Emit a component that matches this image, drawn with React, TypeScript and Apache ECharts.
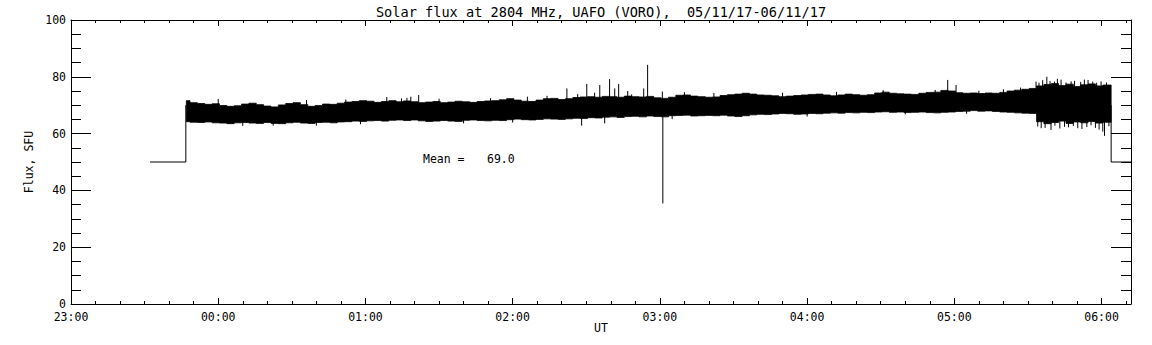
import React, { useEffect, useRef } from "react";
import * as echarts from "echarts";

// Time axis: minutes after 23:00 UT
const axisMin = 0;
const axisMax = 432;
const yTicks = [0, 20, 40, 60, 80, 100];

// Band of the flux record (sampled every 3 minutes, starting 23:47)
const bandStart = 47;
const bandStep = 3;
const bandUpper = [
  71.6, 70.9, 70.6, 70.3, 70.5, 69.9, 69.6, 69.8, 70.4, 70.7,
  70.2, 69.7, 69.4, 70.1, 70.6, 70.9, 70.2, 69.6, 69.9, 70.4,
  70.3, 70.7, 71.1, 71.3, 71.6, 71.4, 71.0, 71.3, 71.6, 71.2,
  71.5, 71.2, 70.9, 71.1, 71.3, 70.9, 71.1, 71.4, 71.2, 71.0,
  71.3, 71.5, 71.6, 71.9, 72.3, 71.8, 71.4, 71.3, 71.8, 72.3,
  72.4, 72.0, 72.3, 72.7, 72.9, 73.0, 72.8, 73.1, 73.0, 72.8,
  73.2, 73.0, 72.9, 73.1, 72.6, 72.4, 72.8, 73.5, 73.6, 73.2,
  73.0, 72.8, 72.9, 73.4, 73.7, 73.9, 74.2, 73.9, 73.6, 73.5,
  73.3, 73.0, 73.2, 73.4, 73.6, 73.8, 73.9, 73.6, 73.3, 73.6,
  73.9, 73.7, 73.5, 73.7, 74.3, 74.6, 74.2, 74.0, 73.9, 73.8,
  74.2, 74.5, 74.6, 75.2, 75.0, 74.4, 74.2, 74.3, 74.1, 74.3,
  74.2, 74.5, 75.0, 75.3, 75.6, 75.9, 76.8, 77.3, 77.6, 76.9,
  77.4, 76.6, 77.2, 77.5, 76.8, 77.1,
];
const bandLower = [
  64.2, 64.0, 63.9, 64.1, 63.8, 63.7, 63.5, 63.8, 63.9, 63.7,
  63.6, 63.9, 63.6, 63.5, 63.8, 64.0, 63.7, 63.6, 63.9, 64.0,
  63.8, 64.1, 64.2, 64.4, 64.3, 64.5, 64.6, 64.4, 64.7, 64.8,
  64.6, 64.8, 64.5, 64.3, 64.4, 64.6, 64.4, 64.3, 64.7, 64.8,
  64.6, 64.5, 64.7, 64.6, 64.9, 65.1, 64.9, 64.8, 65.0, 65.2,
  65.1, 65.0, 65.2, 65.4, 65.3, 65.6, 65.5, 65.8, 65.9, 65.7,
  66.0, 66.1, 65.9, 66.2, 66.0, 65.9, 66.3, 66.4, 66.5, 66.2,
  66.3, 66.4, 66.3, 66.5, 66.2, 66.0, 66.3, 66.6, 66.8, 66.7,
  66.9, 67.1, 67.0, 66.8, 66.9, 67.1, 67.0, 67.2, 67.3, 67.2,
  67.4, 67.3, 67.5, 67.4, 67.6, 67.7, 67.5, 67.6, 67.4, 67.5,
  67.6, 67.4, 67.3, 67.5, 67.6, 67.8, 67.9, 68.1, 67.9, 68.0,
  67.8, 67.6, 67.5, 67.3, 67.2, 67.1, 64.2, 63.5, 63.9, 64.4,
  63.6, 64.1, 63.8, 64.3, 63.7, 64.0,
];
const bandEnd = 423.9;

// Isolated spikes: time (min after 23:00) and peak value
const spikeTimes = [
  60, 70, 82.4, 96, 100, 112, 118, 128.7, 134.7, 136.9,
  138.5, 141.7, 150, 160, 171, 180, 186, 194, 202.1, 206.5,
  208.1, 210.2, 213.4, 215.5, 217.5, 219.5, 221.6, 223.2, 226.9, 228.5,
  233.4, 235.0, 241.0, 241.2, 245, 250, 262, 290, 300, 312,
  331, 340, 352.2, 357.3, 360.7, 365, 370, 380, 387, 393.3,
  394, 394.5, 395.4, 396, 397, 397.7, 399, 399.4, 400.8, 401,
  402, 403, 403.5, 404.9, 405.5, 406.5, 407.6, 408.5, 409, 410.3,
  411.5, 412, 413.0, 414, 414.5, 415.7, 416.4, 417.5, 418, 419,
  419.8, 420.5, 421.2, 422, 423,
];
const spikeValues = [
  72.2, 62.7, 62.8, 71.8, 62.8, 72.0, 63.3, 72.9, 72.4, 72.6,
  73.0, 73.6, 72.3, 63.6, 72.5, 63.9, 73.0, 73.3, 75.9, 73.9,
  62.8, 77.5, 74.4, 77.1, 63.6, 79.2, 75.9, 77.5, 75.0, 73.8,
  75.9, 84.2, 74.8, 35.4, 65.1, 74.6, 74.3, 74.4, 66.0, 74.7,
  75.3, 66.8, 75.4, 78.9, 77.1, 67.0, 75.1, 75.6, 76.2, 78.3,
  62.5, 77.9, 61.9, 78.8, 62.0, 80.0, 78.5, 61.3, 78.3, 62.8,
  79.3, 61.8, 79.0, 62.4, 78.0, 62.2, 78.4, 62.7, 78.6, 61.9,
  78.2, 61.6, 79.0, 62.3, 78.9, 62.9, 78.3, 62.0, 77.9, 61.4,
  78.4, 60.7, 59.2, 78.0, 62.6,
];
const spikeBase = 69;

// Fill-in segments before and after the record
const leadTimes = [32.2, 46.8, 46.8];
const leadValues = [50, 50, 70];
const tailTimes = [423.9, 423.9, 432];
const tailValues = [70, 50, 50];

const meanValue = 69.0;

const fmtTime = (v: number) => {
  const m = ((Math.round(23 * 60 + v) % 1440) + 1440) % 1440;
  const hh = Math.floor(m / 60);
  const mm = m % 60;
  return String(hh).padStart(2, "0") + ":" + String(mm).padStart(2, "0");
};

const FONT = "DejaVu Sans Mono";

export default function App() {
  const ref = useRef<HTMLDivElement>(null);
  useEffect(() => {
    if (!ref.current) return;
    const chart = echarts.init(ref.current, undefined, { renderer: "svg" });

    const bandData = bandUpper.map((u, i) => [bandStart + i * bandStep, bandLower[i], u]);
    const spikeData = spikeTimes.map((t, i) => [t, spikeValues[i]]);
    const leadData = leadTimes.map((t, i) => [t, leadValues[i]]);
    const tailData = tailTimes.map((t, i) => [t, tailValues[i]]);

    const black = "#000";
    const baseX = {
      type: "value" as const,
      min: axisMin,
      max: axisMax,
      splitLine: { show: false },
    };
    const line = (show: boolean) => ({
      show,
      onZero: false,
      lineStyle: { color: black, width: 1 },
    });

    chart.setOption({
      animation: false,
      backgroundColor: "#fff",
      title: {
        text: "Solar flux at 2804 MHz, UAFO (VORO),  05/11/17-06/11/17",
        left: 596,
        textAlign: "center",
        top: 0,
        textStyle: { fontFamily: FONT, fontSize: 13.6, fontWeight: "normal", color: black },
      },
      grid: { left: 71, right: 21, top: 20, bottom: 41, containLabel: false },
      xAxis: [
        {
          ...baseX,
          position: "bottom",
          interval: 60,
          axisLine: line(true),
          axisTick: { show: true, inside: true, length: 6, lineStyle: { color: black } },
          axisLabel: {
            show: true,
            margin: 7,
            color: black,
            fontFamily: FONT,
            fontSize: 11.5,
            formatter: fmtTime,
            showMaxLabel: false,
            showMinLabel: true,
          },
          name: "UT",
          nameLocation: "middle",
          nameGap: 18,
          nameMoveOverlap: false,
          nameTextStyle: { color: black, fontFamily: FONT, fontSize: 11.5 },
        },
        {
          ...baseX,
          position: "bottom",
          interval: 10,
          axisLine: line(false),
          axisTick: { show: true, inside: true, length: 3, lineStyle: { color: black } },
          axisLabel: { show: false },
        },
        {
          ...baseX,
          position: "top",
          interval: 60,
          axisLine: line(true),
          axisTick: { show: true, inside: true, length: 6, lineStyle: { color: black } },
          axisLabel: { show: false },
        },
        {
          ...baseX,
          position: "top",
          interval: 10,
          axisLine: line(false),
          axisTick: { show: true, inside: true, length: 3, lineStyle: { color: black } },
          axisLabel: { show: false },
        },
      ],
      yAxis: [
        {
          type: "value",
          position: "left",
          min: yTicks[0],
          max: yTicks[yTicks.length - 1],
          interval: yTicks[1] - yTicks[0],
          splitLine: { show: false },
          axisLine: line(true),
          axisTick: { show: true, inside: true, length: 20, lineStyle: { color: black } },
          minorTick: { show: true, splitNumber: 4, length: 10, lineStyle: { color: black } },
          axisLabel: { margin: 5, color: black, fontFamily: FONT, fontSize: 11.5 },
          name: "Flux, SFU",
          nameLocation: "middle",
          nameGap: 36,
          nameMoveOverlap: false,
          nameTextStyle: { color: black, fontFamily: FONT, fontSize: 11.5 },
        },
        {
          type: "value",
          position: "right",
          min: yTicks[0],
          max: yTicks[yTicks.length - 1],
          interval: yTicks[1] - yTicks[0],
          splitLine: { show: false },
          axisLine: line(true),
          axisTick: { show: true, inside: true, length: 20, lineStyle: { color: black } },
          minorTick: { show: true, splitNumber: 4, length: 10, lineStyle: { color: black } },
          axisLabel: { show: false },
        },
      ],
      series: [
        {
          type: "custom",
          silent: true,
          xAxisIndex: 0,
          yAxisIndex: 0,
          data: bandData,
          encode: { x: 0, y: [1, 2] },
          renderItem: (params: any, api: any) => {
            if (params.dataIndexInside !== 0) return null;
            const n = params.dataInsideLength;
            const top: number[][] = [];
            const bottom: number[][] = [];
            for (let k = 0; k < n; k++) {
              const t = api.value(0, k);
              const t0 = k === 0 ? t : t - bandStep / 2;
              const t1 = k === n - 1 ? bandEnd : t + bandStep / 2;
              const lo = api.value(1, k);
              const hi = api.value(2, k);
              top.push(api.coord([t0, hi]), api.coord([t1, hi]));
              bottom.push(api.coord([t0, lo]), api.coord([t1, lo]));
            }
            const pts = top.concat(bottom.reverse());
            return {
              type: "polygon",
              shape: { points: pts },
              style: { fill: black, stroke: black, lineWidth: 0.8 },
            };
          },
        },
        {
          type: "custom",
          silent: true,
          xAxisIndex: 0,
          yAxisIndex: 0,
          data: spikeData,
          encode: { x: 0, y: 1 },
          renderItem: (params: any, api: any) => {
            const t = api.value(0);
            const v = api.value(1);
            const a = api.coord([t, spikeBase]);
            const b = api.coord([t, v]);
            return {
              type: "line",
              shape: { x1: a[0], y1: a[1], x2: b[0], y2: b[1] },
              style: { stroke: black, lineWidth: 1 },
            };
          },
        },
        {
          type: "line",
          silent: true,
          data: leadData,
          symbol: "none",
          showSymbol: false,
          lineStyle: { color: black, width: 1 },
        },
        {
          type: "line",
          silent: true,
          data: tailData,
          symbol: "none",
          showSymbol: false,
          lineStyle: { color: black, width: 1 },
        },
      ],
      graphic: [
        {
          type: "text",
          left: 423,
          top: 153,
          style: { text: "Mean =", fill: black, font: `11.5px "${FONT}"` },
        },
        {
          type: "text",
          left: 487,
          top: 153,
          style: { text: meanValue.toFixed(1), fill: black, font: `11.5px "${FONT}"` },
        },
      ],
    });
    return () => chart.dispose();
  }, []);
  return (
    <div
      ref={ref}
      style={{ position: "fixed", left: 0, top: 0, width: 1152, height: 345, background: "#fff" }}
    />
  );
}
